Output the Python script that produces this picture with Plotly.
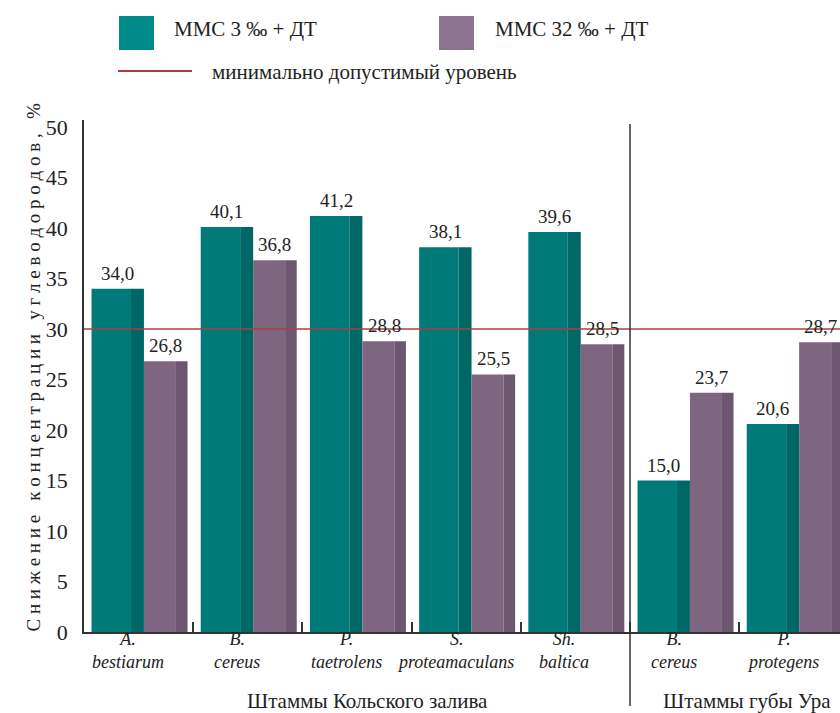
import plotly.graph_objects as go

categories = ["A.<br>bestiarum", "B.<br>cereus", "P.<br>taetrolens", "S.<br>proteamaculans",
              "Sh.<br>baltica", "B.<br>cereus", "P.<br>protegens"]
mmc3 = [34.0, 40.1, 41.2, 38.1, 39.6, 15.0, 20.6]
mmc32 = [26.8, 36.8, 28.8, 25.5, 28.5, 23.7, 28.7]
min_level = 30
y_ticks = [0, 5, 10, 15, 20, 25, 30, 35, 40, 45, 50]
group_labels = ["Штаммы Кольского залива", "Штаммы губы Ура"]
series_names = ["ММС 3 ‰ + ДТ", "ММС 32 ‰ + ДТ"]
line_name = "минимально допустимый уровень"

FONT = "Liberation Serif"
TEAL, TEAL_SIDE, TEAL_LEG = "#007979", "#006767", "#008B8B"
PURP, PURP_SIDE, PURP_LEG = "#7E6680", "#6C5670", "#8C7490"
RED = "#A8403C"
TXT = "#222"

W, H = 840, 713
L, R, T, B = 84, 0, 120, 81
pw, ph = W - L - R, H - T - B
def px(x): return (x - L) / pw
def py(y): return (H - B - y) / ph

xs = list(range(len(categories)))
fig = go.Figure()

def add_bar(vals, off, w, color):
    fig.add_trace(go.Bar(x=xs, y=vals, offset=off, width=w, marker_color=color,
                         marker_line_width=0, showlegend=False, hoverinfo="skip"))

add_bar(mmc3, -0.431, 0.361, TEAL)
add_bar(mmc3, -0.070, 0.119, TEAL_SIDE)
add_bar(mmc32, 0.049, 0.293, PURP)
add_bar(mmc32, 0.342, 0.106, PURP_SIDE)

ann = []
for i, (a, b) in enumerate(zip(mmc3, mmc32)):
    ann.append(dict(x=i - 0.191, y=a, xref="x", yref="y", yanchor="bottom",
                    text=f"{a:.1f}".replace(".", ","), showarrow=False, yshift=3,
                    font=dict(family=FONT, size=19, color=TXT)))
    ann.append(dict(x=i + 0.2485, y=b, xref="x", yref="y", yanchor="bottom",
                    text=f"{b:.1f}".replace(".", ","), showarrow=False, yshift=3,
                    font=dict(family=FONT, size=19, color=TXT)))
    ann.append(dict(x=i - 0.1, y=py(650), xref="x", yref="paper", yanchor="middle",
                    text=categories[i], showarrow=False,
                    font=dict(family=FONT, size=18, color=TXT, style="italic")))

ann.append(dict(x=2.1, y=py(701), xref="x", yref="paper", yanchor="middle",
                text=group_labels[0], showarrow=False, font=dict(family=FONT, size=21, color=TXT)))
ann.append(dict(x=5.57, y=py(701), xref="x", yref="paper", yanchor="middle",
                text=group_labels[1], showarrow=False, font=dict(family=FONT, size=21, color=TXT)))

ytitle = "Снижение концентрации углеводородов, %"
spaced = "   ".join(" ".join(list(w)) for w in ytitle.split(" "))
ann.append(dict(x=px(20), y=py(368), xref="paper", yref="paper", text=spaced, showarrow=False,
                textangle=-90, font=dict(family=FONT, size=19, color=TXT)))

for x, y, t in [(172, 29, series_names[0]), (493, 29, series_names[1]), (210, 72, line_name)]:
    ann.append(dict(xref="paper", yref="paper", x=px(x), y=py(y), xanchor="left", yanchor="middle",
                    text=t, showarrow=False, font=dict(family=FONT, size=21, color=TXT)))

shapes = [
    dict(type="line", xref="paper", yref="y", x0=0, x1=1, y0=min_level, y1=min_level,
         line=dict(color=RED, width=1.5)),
    dict(type="line", xref="x", yref="paper", x0=4.5, x1=4.5, y0=py(124), y1=py(706),
         line=dict(color="#333", width=1.5)),
    dict(type="rect", xref="paper", yref="paper", x0=px(119), x1=px(154), y0=py(16), y1=py(50),
         fillcolor=TEAL_LEG, line=dict(width=0)),
    dict(type="rect", xref="paper", yref="paper", x0=px(439), x1=px(474), y0=py(16), y1=py(50),
         fillcolor=PURP_LEG, line=dict(width=0)),
    dict(type="line", xref="paper", yref="paper", x0=px(118), x1=px(192), y0=py(71), y1=py(71),
         line=dict(color=RED, width=2)),
]

fig.update_layout(
    width=W, height=H, margin=dict(l=L, r=R, t=T, b=B),
    paper_bgcolor="white", plot_bgcolor="white",
    barmode="overlay", showlegend=False,
    font=dict(family=FONT, color=TXT),
    annotations=ann, shapes=shapes,
    xaxis=dict(range=[-0.5, -0.5 + pw / 109.2], tickvals=[i - 0.5 for i in range(8)],
               showticklabels=False, ticks="inside", ticklen=10, tickcolor="#333", tickwidth=1.5,
               showline=True, linecolor="#333", linewidth=1.5, showgrid=False, zeroline=False),
    yaxis=dict(range=[0, 50.7], tickvals=y_ticks, ticks="", showline=True, linecolor="#333",
               linewidth=1.5, showgrid=False, zeroline=False, ticklabelstandoff=10,
               tickfont=dict(family=FONT, size=22, color=TXT)),
)

fig.write_html("out.html")
